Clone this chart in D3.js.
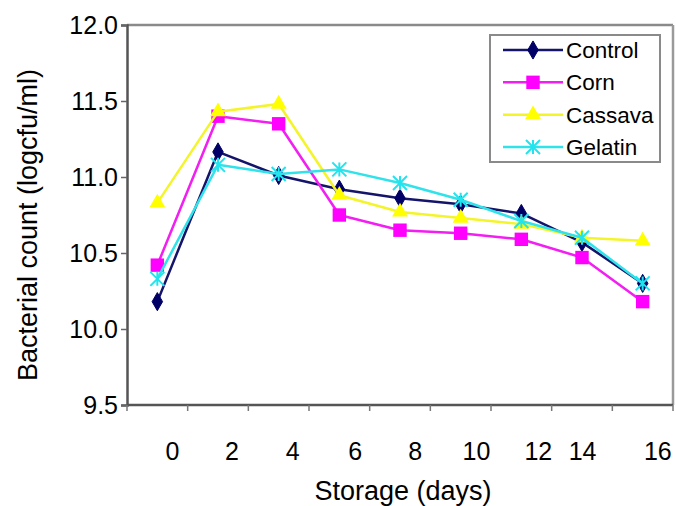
<!DOCTYPE html>
<html>
<head>
<meta charset="utf-8">
<script src="https://cdn.jsdelivr.net/npm/d3@7"></script>
<style>
  html, body { margin: 0; padding: 0; background: #fff; }
  svg { display: block; }
  text { font-family: "Liberation Sans", Arial, Helvetica, sans-serif; fill: #000; }
</style>
</head>
<body>
<svg id="chart" width="676" height="506"></svg>
<script>
// ---- data ----
const days = ["0", "2", "4", "6", "8", "10", "12", "14", "16"];
const seriesNames = ["Control", "Corn", "Cassava", "Gelatin"];
const control = [10.18, 11.165, 11.01, 10.92, 10.86, 10.82, 10.76, 10.57, 10.30];
const corn    = [10.42, 11.40, 11.35, 10.75, 10.65, 10.63, 10.59, 10.47, 10.18];
const cassava = [10.83, 11.43, 11.48, 10.88, 10.77, 10.73, 10.69, 10.60, 10.58];
const gelatin = [10.33, 11.08, 11.02, 11.05, 10.96, 10.85, 10.71, 10.60, 10.30];
const yTicks = [9.5, 10.0, 10.5, 11.0, 11.5, 12.0];
const xTickLabels = ["0", "2", "4", "6", "8", "10", "12", "14", "16"];

// ---- style / layout ----
const colors = { Control: "#000066", Corn: "#ff00ff", Cassava: "#ffff00", Gelatin: "#22e4ee" };
const lineColors = { Control: "#14146a", Corn: "#f21ef2", Cassava: "#f4f42a", Gelatin: "#30e2ea" };
// the original figure's day labels sit to the right of the category centers (fraction of band)
const labelShift = [0.25, 0.23, 0.23, 0.26, 0.25, 0.26, 0.28, 0.01, 0.25];

const svg = d3.select("#chart");
const plot = { left: 127, right: 673, top: 25, bottom: 405 };

const x = d3.scaleBand().domain(days).range([plot.left, plot.right]).paddingInner(0).paddingOuter(0);
const cx = d => x(d) + x.bandwidth() / 2;
const y = d3.scaleLinear().domain([9.5, 12.0]).range([plot.bottom, plot.top]);

const seriesData = [
  { name: "Control", values: control },
  { name: "Corn", values: corn },
  { name: "Cassava", values: cassava },
  { name: "Gelatin", values: gelatin }
];

// frame (top & right)
svg.append("line").attr("x1", plot.left).attr("x2", plot.right).attr("y1", plot.top).attr("y2", plot.top)
  .attr("stroke", "#8a8a8a").attr("stroke-width", 2.5);
svg.append("line").attr("x1", plot.right).attr("x2", plot.right).attr("y1", plot.top).attr("y2", plot.bottom)
  .attr("stroke", "#9a9a9a").attr("stroke-width", 2.5);

// y axis
const yAxis = svg.append("g").attr("transform", `translate(${plot.left},0)`)
  .call(d3.axisLeft(y).tickValues(yTicks).tickFormat(d3.format(".1f")).tickSize(6).tickPadding(3));
yAxis.select(".domain").attr("stroke", "#555").attr("stroke-width", 2.5);
yAxis.selectAll(".tick line").attr("stroke", "#666").attr("stroke-width", 1.5);
yAxis.selectAll(".tick text").attr("font-size", 25).attr("fill", "#000")
  .attr("font-family", '"Liberation Sans", Arial, sans-serif');

// x axis: ticks at band boundaries
const xAxisG = svg.append("g").attr("transform", `translate(0,${plot.bottom})`);
xAxisG.append("line").attr("x1", plot.left).attr("x2", plot.right).attr("y1", 0).attr("y2", 0)
  .attr("stroke", "#555").attr("stroke-width", 2.5);
const boundaries = days.map(d => x(d)).concat([plot.right]);
xAxisG.selectAll("line.tk").data(boundaries).enter().append("line").attr("class", "tk")
  .attr("x1", d => d).attr("x2", d => d).attr("y1", 0).attr("y2", 6)
  .attr("stroke", "#777").attr("stroke-width", 1.5);
xAxisG.selectAll("text.lbl").data(xTickLabels).enter().append("text").attr("class", "lbl")
  .attr("x", (d, i) => x(days[i]) + x.bandwidth() * (0.5 + labelShift[i]))
  .attr("y", 55)
  .attr("text-anchor", "middle").attr("font-size", 25).text(d => d);

// titles
svg.append("text").attr("x", 403).attr("y", 500).attr("text-anchor", "middle")
  .attr("font-size", 27).text("Storage (days)");
svg.append("text").attr("transform", "translate(37,225) rotate(-90)").attr("text-anchor", "middle")
  .attr("font-size", 27).text("Bacterial count (logcfu/ml)");

// markers
function marker(sel, name) {
  const c = colors[name];
  if (name === "Control") {
    sel.append("path").attr("d", d3.symbol().type(d3.symbolDiamond).size(95)()).attr("fill", c).attr("stroke", c).attr("stroke-width", 1);
  } else if (name === "Corn") {
    sel.append("path").attr("d", d3.symbol().type(d3.symbolSquare).size(180)()).attr("fill", c);
  } else if (name === "Cassava") {
    sel.append("path").attr("d", d3.symbol().type(d3.symbolTriangle).size(110)()).attr("fill", c);
  } else {
    const r = 7;
    sel.append("path").attr("d", `M${-r},${-r}L${r},${r}M${-r},${r}L${r},${-r}M0,${-r}L0,${r}`)
      .attr("stroke", c).attr("stroke-width", 2).attr("fill", "none");
  }
}

const line = d3.line().x((v, i) => cx(days[i])).y(v => y(v));

seriesData.forEach(s => {
  const g = svg.append("g");
  g.append("path").attr("d", line(s.values)).attr("fill", "none")
    .attr("stroke", lineColors[s.name]).attr("stroke-width", 2.5).attr("stroke-linejoin", "round");
  s.values.forEach((v, i) => {
    const m = g.append("g").attr("transform", `translate(${cx(days[i])},${y(v)})`);
    marker(m, s.name);
  });
});

// legend
const lg = svg.append("g");
lg.append("rect").attr("x", 490).attr("y", 35).attr("width", 170).attr("height", 127)
  .attr("fill", "#fff").attr("stroke", "#8a8a8a").attr("stroke-width", 2);
const rowY = d3.scalePoint().domain(seriesNames).range([50, 147]);
seriesNames.forEach(name => {
  const ry = rowY(name);
  lg.append("line").attr("x1", 503).attr("x2", 563).attr("y1", ry).attr("y2", ry)
    .attr("stroke", lineColors[name]).attr("stroke-width", 2.5);
  const m = lg.append("g").attr("transform", `translate(533,${ry})`);
  marker(m, name);
  lg.append("text").attr("x", 566).attr("y", ry).attr("dy", "0.36em")
    .attr("font-size", 22.5).text(name);
});
</script>
</body>
</html>
